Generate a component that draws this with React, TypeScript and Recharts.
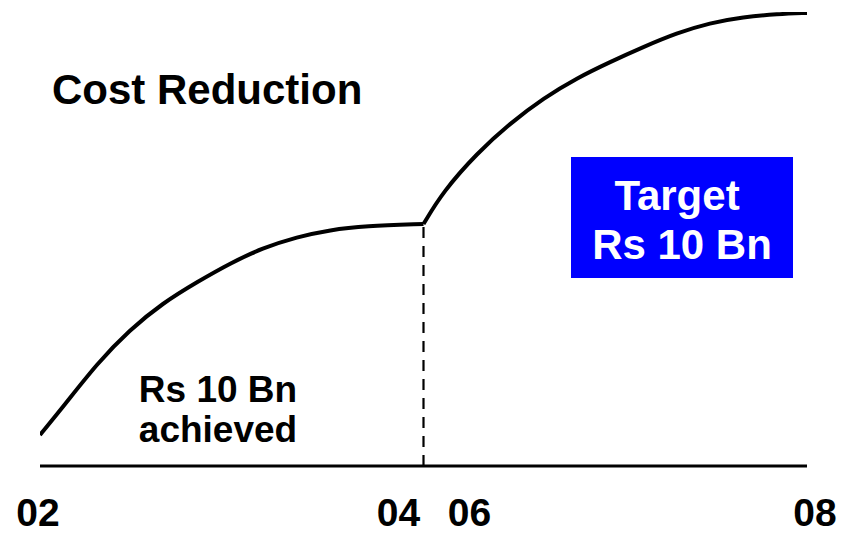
import { LineChart, Line, XAxis, YAxis, ReferenceLine } from "recharts";

// savings curve (Rs Bn, cumulative)
const ACHIEVED_YEARS = [2002, 2002.18, 2002.45, 2002.7, 2002.96, 2003.23, 2003.49, 2003.74, 2004.01, 2004.27, 2004.54, 2005];
const ACHIEVED_VALUES = [1.37, 2.6, 4.54, 5.99, 7.18, 8.11, 8.94, 9.6, 10.09, 10.4, 10.57, 10.66];
const TARGET_YEARS = [2005, 2005.15, 2005.42, 2005.68, 2005.94, 2006.2, 2006.46, 2006.72, 2006.98, 2007.24, 2007.5, 2007.77, 2008];
const TARGET_VALUES = [10.66, 12.07, 13.79, 15.11, 16.21, 17.09, 17.8, 18.46, 19.07, 19.52, 19.78, 19.91, 19.96];

const TICK_VALUES = [2002, 2005, 2008];
const TICK_LABELS = ["02", "04", "06", "08"];

const TITLE = "Cost Reduction";
const ACHIEVED_TEXT = ["Rs 10 Bn", "achieved"];
const TARGET_TEXT = ["Target", "Rs 10 Bn"];

const achievedData = ACHIEVED_YEARS.map((year, i) => ({ year, value: ACHIEVED_VALUES[i] }));
const targetData = TARGET_YEARS.map((year, i) => ({ year, value: TARGET_VALUES[i] }));
const joinValue = ACHIEVED_VALUES[ACHIEVED_VALUES.length - 1];

const FONT = '"Liberation Sans", Arial, Helvetica, sans-serif';

function YearTick(props: any) {
  const { x, y, payload } = props;
  const v = payload?.value;
  const base = y + 52;
  const style = { fontFamily: FONT, fontWeight: 700, fontSize: 39, fill: "#000" } as const;
  if (v === 2002) {
    return <text x={x - 2} y={base} textAnchor="middle" {...style}>{TICK_LABELS[0]}</text>;
  }
  if (v === 2008) {
    return <text x={x + 8} y={base} textAnchor="middle" {...style}>{TICK_LABELS[3]}</text>;
  }
  return (
    <g>
      <text x={x - 25} y={base} textAnchor="middle" {...style}>{TICK_LABELS[1]}</text>
      <text x={x + 46} y={base} textAnchor="middle" {...style}>{TICK_LABELS[2]}</text>
    </g>
  );
}

export default function App() {
  return (
    <div style={{ position: "absolute", left: 0, top: 0, width: 842, height: 535, background: "#fff" }}>
      <LineChart width={842} height={535} margin={{ top: 12, right: 35, left: 40, bottom: 0 }}>
        <XAxis
          type="number"
          dataKey="year"
          domain={[2002, 2008]}
          ticks={TICK_VALUES}
          allowDataOverflow
          height={69}
          axisLine={{ stroke: "#000", strokeWidth: 3 }}
          tickLine={false}
          tick={<YearTick />}
          interval={0}
        />
        <YAxis hide domain={[0, 20]} type="number" allowDataOverflow />
        <ReferenceLine
          segment={[{ x: 2005, y: 0 }, { x: 2005, y: joinValue }]}
          stroke="#000"
          strokeWidth={2.2}
          strokeDasharray="11 8"
        />
        <Line
          data={achievedData}
          dataKey="value"
          type="basis"
          stroke="#000"
          strokeWidth={4}
          dot={false}
          activeDot={false}
          isAnimationActive={false}
        />
        <Line
          data={targetData}
          dataKey="value"
          type="basis"
          stroke="#000"
          strokeWidth={4}
          dot={false}
          activeDot={false}
          isAnimationActive={false}
        />
      </LineChart>
      <svg
        width={842}
        height={535}
        style={{ position: "absolute", left: 0, top: 0, pointerEvents: "none" }}
      >
        <g fontFamily={FONT} fontWeight={700}>
          <text x={52} y={104} fontSize={42} fill="#000">{TITLE}</text>
          <text x={218} y={402} fontSize={37} fill="#000" textAnchor="middle">{ACHIEVED_TEXT[0]}</text>
          <text x={218} y={442} fontSize={37} fill="#000" textAnchor="middle">{ACHIEVED_TEXT[1]}</text>
          <rect x={571} y={157} width={222} height={121} fill="#0000ff" />
          <text x={677} y={210} fontSize={42} fill="#fff" textAnchor="middle">{TARGET_TEXT[0]}</text>
          <text x={682} y={259} fontSize={42} fill="#fff" textAnchor="middle">{TARGET_TEXT[1]}</text>
        </g>
      </svg>
    </div>
  );
}
